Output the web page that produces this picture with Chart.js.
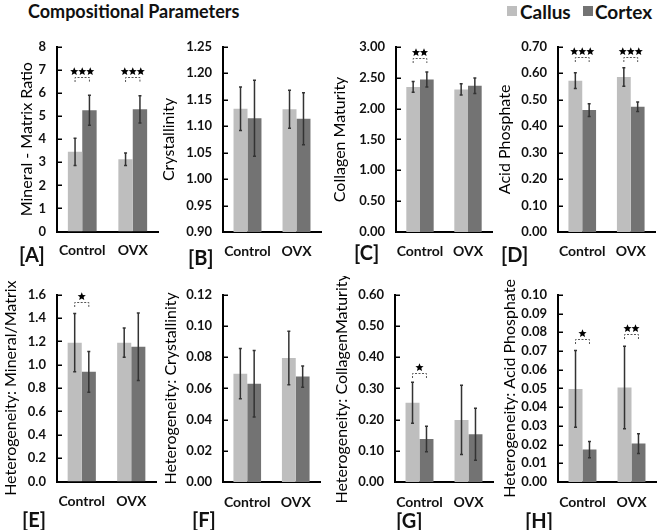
<!DOCTYPE html>
<html>
<head>
<meta charset="utf-8">
<script src="https://cdn.jsdelivr.net/npm/chart.js@4.4.0/dist/chart.umd.min.js"></script>
<style>
    body { margin: 0; width: 660px; height: 530px; position: relative; background: #fff; overflow: hidden; font-family: Lato, "Open Sans", sans-serif; }
    canvas { position: absolute; }
    .txt { position: absolute; font-weight: bold; color: #111; white-space: nowrap; line-height: 1; }
    .sq { position: absolute; width: 10px; height: 10px; }
</style>
</head>
<body>

<div class="txt" style="left:28px; top:2px; font-size:18px;">Compositional Parameters</div>
<div class="sq" style="left:507px; top:6px; background:#bebebe;"></div>
<div class="txt" style="left:520px; top:2px; font-size:19px;">Callus</div>
<div class="sq" style="left:583px; top:6px; background:#737373;"></div>
<div class="txt" style="left:595px; top:2px; font-size:19px;">Cortex</div>

<div id="panels"></div>

<script>

// Categories and series.
var groups = ["Control", "OVX"];
var seriesNames = ["Callus", "Cortex"];

// [A] Mineral - Matrix Ratio
var mmCallus = [3.45, 3.13];
var mmCallusErr = [0.59, 0.27];
var mmCortex = [5.25, 5.29];
var mmCortexErr = [0.65, 0.59];
var mmStars = [3, 3];
var mmBracket = [6.7, 6.7];

// [B] Crystallinity
var crCallus = [1.133, 1.132];
var crCallusErr = [0.041, 0.036];
var crCortex = [1.115, 1.114];
var crCortexErr = [0.072, 0.049];

// [C] Collagen Maturity
var cmCallus = [2.35, 2.31];
var cmCallusErr = [0.087, 0.09];
var cmCortex = [2.47, 2.37];
var cmCortexErr = [0.12, 0.125];
var cmStars = [2, 0];
var cmBracket = [2.82, null];

// [D] Acid Phosphate
var apCallus = [0.572, 0.586];
var apCallusErr = [0.03, 0.035];
var apCortex = [0.461, 0.473];
var apCortexErr = [0.024, 0.018];
var apStars = [3, 3];
var apBracket = [0.662, 0.662];

// [E] Heterogeneity: Mineral/Matrix
var hmmCallus = [1.19, 1.19];
var hmmCallusErr = [0.25, 0.125];
var hmmCortex = [0.94, 1.155];
var hmmCortexErr = [0.175, 0.29];
var hmmStars = [1, 0];
var hmmBracket = [1.54, null];

// [F] Heterogeneity: Crystallinity
var hcrCallus = [0.0694, 0.0795];
var hcrCallusErr = [0.0161, 0.0172];
var hcrCortex = [0.063, 0.0676];
var hcrCortexErr = [0.0213, 0.0068];

// [G] Heterogeneity: Collagen Maturity
var hcmCallus = [0.254, 0.199];
var hcmCallusErr = [0.066, 0.111];
var hcmCortex = [0.138, 0.153];
var hcmCortexErr = [0.041, 0.083];
var hcmStars = [1, 0];
var hcmBracket = [0.349, null];

// [H] Heterogeneity: Acid Phosphate
var hapCallus = [0.0497, 0.0505];
var hapCallusErr = [0.0205, 0.022];
var hapCortex = [0.0173, 0.0205];
var hapCortexErr = [0.0043, 0.0053];
var hapStars = [1, 2];
var hapBracket = [0.0763, 0.0789];

// Y axis ranges: [min, max, step, decimals]
var mmAxis = [0, 8, 1, 0];
var crAxis = [0.90, 1.25, 0.05, 2];
var cmAxis = [0, 3, 0.5, 2];
var apAxis = [0, 0.7, 0.1, 2];
var hmmAxis = [0, 1.6, 0.2, 1];
var hcrAxis = [0, 0.12, 0.02, 2];
var hcmAxis = [0, 0.6, 0.1, 2];
var hapAxis = [0, 0.1, 0.01, 2];


var panels = [
    { tag: "A", title: "Mineral - Matrix Ratio", axis: mmAxis, callus: mmCallus, callusErr: mmCallusErr, cortex: mmCortex, cortexErr: mmCortexErr, stars: mmStars, bracket: mmBracket },
    { tag: "B", title: "Crystallinity", axis: crAxis, callus: crCallus, callusErr: crCallusErr, cortex: crCortex, cortexErr: crCortexErr, stars: null, bracket: null },
    { tag: "C", title: "Collagen Maturity", axis: cmAxis, callus: cmCallus, callusErr: cmCallusErr, cortex: cmCortex, cortexErr: cmCortexErr, stars: cmStars, bracket: cmBracket },
    { tag: "D", title: "Acid Phosphate", axis: apAxis, callus: apCallus, callusErr: apCallusErr, cortex: apCortex, cortexErr: apCortexErr, stars: apStars, bracket: apBracket },
    { tag: "E", title: "Heterogeneity: Mineral/Matrix", axis: hmmAxis, callus: hmmCallus, callusErr: hmmCallusErr, cortex: hmmCortex, cortexErr: hmmCortexErr, stars: hmmStars, bracket: hmmBracket },
    { tag: "F", title: "Heterogeneity: Crystallinity", axis: hcrAxis, callus: hcrCallus, callusErr: hcrCallusErr, cortex: hcrCortex, cortexErr: hcrCortexErr, stars: null, bracket: null },
    { tag: "G", title: "Heterogeneity: CollagenMaturity", axis: hcmAxis, callus: hcmCallus, callusErr: hcmCallusErr, cortex: hcmCortex, cortexErr: hcmCortexErr, stars: hcmStars, bracket: hcmBracket },
    { tag: "H", title: "Heterogeneity: Acid Phosphate", axis: hapAxis, callus: hapCallus, callusErr: hapCallusErr, cortex: hapCortex, cortexErr: hapCortexErr, stars: hapStars, bracket: hapBracket },
];

//
// Where each panel sits on the page: canvas left/top, y axis x, plot right,
// plot top, plot bottom, canvas bottom, x label padding, and the [X] label.
//
var boxes = {
    A: { cl: 17,  ct: 28,  axis: 57,  right: 158, top: 41.5, bottom: 231.5, cb: 268, pad: 11, lx: 19,  ly: 244 },
    B: { cl: 159, ct: 28,  axis: 223, right: 321, top: 41,   bottom: 232,   cb: 268, pad: 11, lx: 188, ly: 247 },
    C: { cl: 330, ct: 28,  axis: 396, right: 492, top: 42,   bottom: 232,   cb: 268, pad: 11, lx: 354, ly: 242 },
    D: { cl: 495, ct: 28,  axis: 558, right: 655, top: 42,   bottom: 232,   cb: 268, pad: 11, lx: 501, ly: 244 },
    E: { cl: 1,   ct: 276, axis: 57,  right: 156, top: 289.5, bottom: 481.5, cb: 520, pad: 12, lx: 22,  ly: 509 },
    F: { cl: 161, ct: 276, axis: 223, right: 320, top: 289.3, bottom: 482,  cb: 520, pad: 12, lx: 192, ly: 509 },
    G: { cl: 332, ct: 276, axis: 395, right: 493, top: 290,  bottom: 482,   cb: 520, pad: 12, lx: 396, ly: 510 },
    H: { cl: 500, ct: 276, axis: 558, right: 656, top: 290.5, bottom: 482,  cb: 520, pad: 12, lx: 525, ly: 510 },
};

var callusColor = "#bebebe";
var cortexColor = "#737373";
var fontFamily = "Lato, 'Open Sans', sans-serif";


/**
* Draw a little five-pointed star.
*/
function drawStar(ctx, cx, cy, r) {

    ctx.beginPath();
    for (var i = 0; i < 10; i++) {
        var rad = (i % 2 === 0) ? r : r * 0.45;
        var a = -Math.PI / 2 + i * Math.PI / 5;
        var px = cx + rad * Math.cos(a);
        var py = cy + rad * Math.sin(a);
        if (i === 0) { ctx.moveTo(px, py); } else { ctx.lineTo(px, py); }
    }
    ctx.closePath();
    ctx.fill();

} // End of drawStar()


/**
* Plugin: inward tick marks, error bars and significance brackets.
*/
var extrasPlugin = {
    id: "panelExtras",
    afterDatasetsDraw: function(chart) {

        var p = chart.$panel;
        var ctx = chart.ctx;
        var y = chart.scales.y;
        var area = chart.chartArea;

        ctx.save();

        // Tick marks pointing into the plot.
        ctx.strokeStyle = "#000";
        ctx.lineWidth = 1.5;
        y.ticks.forEach(function(t) {
            var py = Math.round(y.getPixelForValue(t.value)) + 0.25;
            ctx.beginPath();
            ctx.moveTo(area.left, py);
            ctx.lineTo(area.left + 5, py);
            ctx.stroke();
        });

        // Error bars.
        var errs = [p.callusErr, p.cortexErr];
        var vals = [p.callus, p.cortex];
        ctx.strokeStyle = "#333";
        ctx.lineWidth = 1.5;
        [0, 1].forEach(function(d) {
            chart.getDatasetMeta(d).data.forEach(function(bar, j) {
                var hi = y.getPixelForValue(vals[d][j] + errs[d][j]);
                var lo = y.getPixelForValue(vals[d][j] - errs[d][j]);
                ctx.beginPath();
                ctx.moveTo(bar.x, hi);
                ctx.lineTo(bar.x, lo);
                ctx.moveTo(bar.x - 1.5, hi);
                ctx.lineTo(bar.x + 1.5, hi);
                ctx.moveTo(bar.x - 1.5, lo);
                ctx.lineTo(bar.x + 1.5, lo);
                ctx.stroke();
            });
        });

        // Significance brackets with stars.
        if (p.stars) {
            var m0 = chart.getDatasetMeta(0).data;
            var m1 = chart.getDatasetMeta(1).data;
            p.stars.forEach(function(n, j) {
                if (!n || p.bracket[j] === null) { return; }
                var by = Math.round(y.getPixelForValue(p.bracket[j])) + 0.5;
                var x1 = m0[j].x;
                var x2 = m1[j].x;
                ctx.strokeStyle = "#555";
                ctx.lineWidth = 1;
                ctx.setLineDash([2, 1.5]);
                ctx.beginPath();
                ctx.moveTo(x1, by + 4.5);
                ctx.lineTo(x1, by);
                ctx.lineTo(x2, by);
                ctx.lineTo(x2, by + 4.5);
                ctx.stroke();
                ctx.setLineDash([]);
                ctx.fillStyle = "#000";
                var pitch = 8;
                var cx = (x1 + x2) / 2 - (n - 1) * pitch / 2;
                for (var k = 0; k < n; k++) {
                    drawStar(ctx, cx + k * pitch, by - 6, 4.3);
                }
            });
        }

        ctx.restore();
    }
};


/**
* Build one panel chart.
*/
function makePanel(p) {

    var b = boxes[p.tag];
    var holder = document.getElementById("panels");

    var canvas = document.createElement("canvas");
    var w = Math.round(b.right - b.cl + 4);
    var h = b.cb - b.ct;
    canvas.width = w;
    canvas.height = h;
    canvas.style.left = b.cl + "px";
    canvas.style.top = b.ct + "px";
    canvas.style.width = w + "px";
    canvas.style.height = h + "px";
    holder.appendChild(canvas);

    var label = document.createElement("div");
    label.className = "txt";
    label.style.left = b.lx + "px";
    label.style.top = b.ly + "px";
    label.style.fontSize = "20px";
    label.textContent = "[" + p.tag + "]";
    holder.appendChild(label);

    var yWidth = b.axis - b.cl;
    var xHeight = b.cb - b.bottom;

    var chart = new Chart(canvas.getContext("2d"), {
        type: "bar",
        data: {
            labels: groups,
            datasets: [
                { label: seriesNames[0], data: p.callus, backgroundColor: callusColor, borderWidth: 0 },
                { label: seriesNames[1], data: p.cortex, backgroundColor: cortexColor, borderWidth: 0 },
            ],
        },
        options: {
            responsive: false,
            animation: false,
            devicePixelRatio: 1,
            categoryPercentage: 0.57,
            barPercentage: 1.0,
            layout: { padding: { top: b.top - b.ct, right: w - (b.right - b.cl), left: 0, bottom: 0 } },
            plugins: { legend: { display: false }, tooltip: { enabled: false } },
            scales: {
                x: {
                    grid: { display: false, drawTicks: false },
                    border: { display: true, color: "#000", width: 2 },
                    ticks: { color: "#111", padding: b.pad, maxRotation: 0, autoSkip: false,
                             font: { family: fontFamily, size: 14, weight: "bold" } },
                    afterFit: function(s) { s.height = xHeight; },
                },
                y: {
                    min: p.axis[0],
                    max: p.axis[1],
                    grid: { display: false, drawTicks: false },
                    border: { display: true, color: "#000", width: 2 },
                    ticks: { stepSize: p.axis[2], color: "#111", padding: 11,
                             font: { family: fontFamily, size: 13, weight: "bold" },
                             callback: function(v) { return Number(v).toFixed(p.axis[3]); } },
                    title: { display: true, text: p.title, color: "#000", padding: 0,
                             font: { family: fontFamily, size: 16 } },
                    afterFit: function(s) { s.width = yWidth; },
                },
            },
        },
        plugins: [{ id: "attach", beforeInit: function(c) { c.$panel = p; } }, extrasPlugin],
    });

    return(chart);

} // End of makePanel()


panels.forEach(function(p) { makePanel(p); });

</script>
</body>
</html>
